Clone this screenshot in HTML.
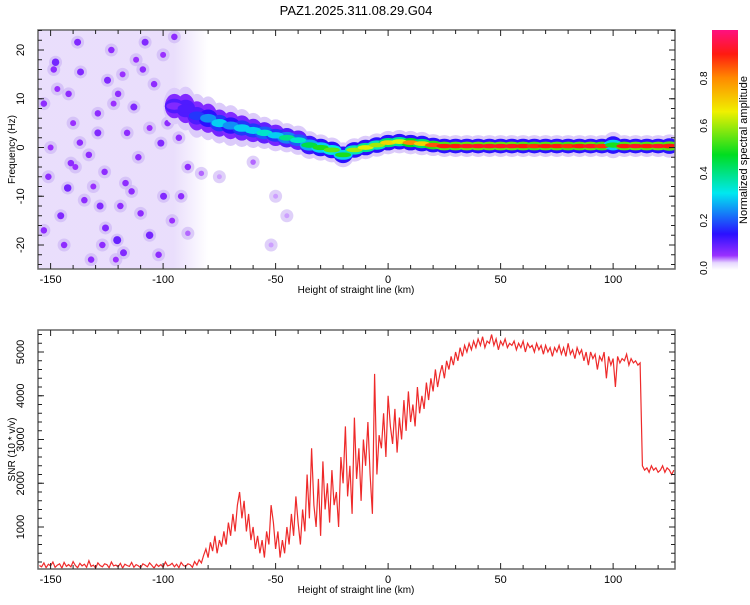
<!DOCTYPE html>
<html><head><meta charset="utf-8"><style>
body{margin:0;background:#fff;font-family:"Liberation Sans",sans-serif}
svg text{font-family:"Liberation Sans",sans-serif}
</style></head><body>
<svg id="s" width="750" height="600" xmlns="http://www.w3.org/2000/svg">
<defs>
<linearGradient id="cb" x1="0" y1="1" x2="0" y2="0">
<stop offset="0" stop-color="#fff"/><stop offset="0.03" stop-color="#e6d6ff"/><stop offset="0.06" stop-color="#9a30ff"/>
<stop offset="0.15" stop-color="#2a10ff"/><stop offset="0.32" stop-color="#00e8f0"/><stop offset="0.48" stop-color="#00dd20"/>
<stop offset="0.66" stop-color="#f0f000"/><stop offset="0.8" stop-color="#ff8a00"/><stop offset="0.9" stop-color="#ff1a10"/><stop offset="1" stop-color="#ff1080"/>
</linearGradient>
<linearGradient id="bgg" x1="0" y1="0" x2="1" y2="0">
<stop offset="0" stop-color="#e4d6fb"/><stop offset="0.8" stop-color="#e4d6fb"/><stop offset="1" stop-color="#ffffff"/>
</linearGradient>
<clipPath id="c1"><rect x="38" y="30" width="637" height="239"/></clipPath>
<clipPath id="c2"><rect x="38" y="330" width="637" height="239"/></clipPath>
</defs>
<text x="356" y="15" text-anchor="middle" font-size="13">PAZ1.2025.311.08.29.G04</text>
<g id="topg" clip-path="url(#c1)"></g>
<g id="botg" clip-path="url(#c2)"></g>
<g id="axes"></g>
<rect x="712" y="30" width="26" height="240" fill="url(#cb)"/>
<text transform="translate(747,150) rotate(-90)" text-anchor="middle" font-size="11">Normalized spectral amplitude</text>
</svg>
<script>
// ---- data ----
const blobKm=[-147.8,-136.7,-141,-142.4,-120.4,-106,-133,-113,-129,-108,-153,-145.5,-151,-125.6,-116.7,-99.8,-92,-124.7,-104,-95,-138,-123,-116,-101,-89,-135,-128,-110,-117.6,-132,-153,-148.6,-129,-142,-98,-89,-120,-111,-83,-75,-50,-45,-52,-60,-140,-112,-102,-150,-126,-118,-144,-131,-119,-106,-96,-137,-122,-109,-147,-114,-100,-127,-139,-93,-121];
const blobHz=[17.5,15.5,-3.2,-8.3,-19,-18,-1.5,8.3,7,21.6,9,-14,-6,-16.5,-7.3,-10,-10,13.8,13,22.7,21.6,20,3,0.9,-4,-10.8,-12,-13.5,-21.6,-23,-17,16,3,11,5,-17.6,11,-2,-5.3,-6,-10,-14,-20,-3,5,18,-22,0,-5,15,-20,-8,-12,4,-15,1,9,16,12,-9,19,-20,-4,2,-23];
const blobAmp=[0.09,0.08,0.07,0.09,0.1,0.09,0.07,0.08,0.07,0.08,0.07,0.08,0.07,0.08,0.07,0.08,0.07,0.08,0.07,0.07,0.08,0.07,0.07,0.08,0.07,0.07,0.08,0.07,0.08,0.07,0.07,0.07,0.08,0.07,0.07,0.05,0.07,0.07,0.05,0.04,0.04,0.04,0.04,0.05,0.06,0.06,0.07,0.06,0.07,0.06,0.07,0.06,0.07,0.06,0.06,0.07,0.06,0.07,0.06,0.07,0.06,0.07,0.06,0.07,0.06];
const ridgeKm=[-95,-90,-85,-80,-75,-70,-65,-60,-55,-50,-45,-40,-35,-30,-25,-20,-15,-10,-5,0,5,10,15,20,25,30,35,40,45,50,55,60,65,70,75,80,85,90,95,100,105,110,115,120,125];
const ridgeHz=[8.5,8,6.5,6,5,4.5,4,3.5,3,2.5,2,1.5,0.5,0,-0.5,-1.5,-0.5,0,0.5,1,1.2,1,0.8,0.5,0.3,0.3,0.3,0.3,0.3,0.3,0.3,0.3,0.3,0.3,0.3,0.3,0.3,0.3,0.3,0.5,0.3,0.3,0.3,0.3,0.3];
const ridgeAmp=[0.08,0.12,0.18,0.25,0.3,0.25,0.3,0.3,0.35,0.3,0.4,0.35,0.45,0.5,0.55,0.5,0.6,0.65,0.6,0.7,0.65,0.8,0.7,0.85,0.9,0.9,0.92,0.92,0.92,0.92,0.92,0.9,0.88,0.9,0.9,0.88,0.9,0.92,0.88,0.5,0.9,0.92,0.9,0.92,0.9];
const ridgeWidth=[2.5,3,3,3,2.8,2.8,2.6,2.4,2.2,2.2,2,2,1.9,1.8,1.7,1.7,1.6,1.6,1.6,1.6,1.6,1.6,1.6,1.5,1.5,1.5,1.5,1.5,1.5,1.5,1.5,1.5,1.5,1.5,1.5,1.5,1.5,1.5,1.5,1.8,1.5,1.5,1.5,1.5,1.6];
const snrStart=-155, snrStep=1;
const snr=[120,90,180,70,150,110,200,80,130,160,60,190,100,140,90,210,120,70,170,110,150,80,230,100,130,60,180,120,90,160,140,70,200,110,130,90,170,60,150,120,100,190,80,140,110,70,160,130,90,180,120,60,150,100,140,80,200,110,130,170,90,150,70,190,120,100,160,140,80,210,
130,250,180,350,500,300,650,450,800,400,700,550,900,600,1100,800,1300,900,1500,1800,1200,1600,900,1300,700,1000,500,800,400,700,300,900,600,1500,1100,500,900,300,700,400,
1000,600,1300,800,1700,1100,600,1400,900,2200,1200,2800,1500,1000,2100,800,2500,1400,2000,1100,2300,1500,1800,1000,2600,2000,3300,1700,2400,1300,3500,2100,2800,1600,3000,2400,3400,2200,1300,4500,
2200,3100,2800,3600,2600,4000,3300,2900,3700,2700,3500,3000,3900,3200,4100,3400,3800,3300,4200,3600,4000,3700,4300,3900,4400,4100,4600,4200,4500,4700,4400,4800,4600,4900,4700,5000,4800,5100,4900,5150,
5000,5200,5050,5250,5100,5300,5150,5350,5100,5250,5200,5400,5150,5300,5050,5250,5150,5300,5100,5200,5150,5250,5050,5200,5100,5250,5000,5200,5100,5150,5000,5200,5050,5150,4950,5150,5000,5100,4900,5100,
5000,5150,4950,5100,4900,5200,4950,5050,4850,5100,4950,5050,4800,5000,4700,5000,4850,4950,4600,4900,4800,5000,4400,4900,4700,4850,4200,4900,4750,4850,4800,4950,4700,4850,4750,4800,4700,4750,2400,2300,
2350,2250,2400,2300,2350,2250,2300,2400,2250,2350,2300,2200,2300];
const xTicks=[-150,-100,-50,0,50,100];
const fTicks=[-20,-10,0,10,20];
const sTicks=[1000,2000,3000,4000,5000];
const cTicks=[0.0,0.2,0.4,0.6,0.8];
// ---- scales ----
const L=38,R=675,kmMin=-155.6,kmMax=127.5;
const X=k=>L+(k-kmMin)/(kmMax-kmMin)*(R-L);
const FY=h=>147.5-h*4.875;
const SY=v=>570.75-v*0.04375;
const CY=a=>268-a*237;
const NS="http://www.w3.org/2000/svg";
function mk(t,at,p){const e=document.createElementNS(NS,t);for(const k in at)e.setAttribute(k,at[k]);p.appendChild(e);return e;}
const stops=[[0,[255,255,255]],[0.03,[230,214,255]],[0.06,[154,48,255]],[0.15,[42,16,255]],[0.32,[0,232,240]],[0.48,[0,221,32]],[0.66,[240,240,0]],[0.8,[255,138,0]],[0.9,[255,26,16]],[1,[255,16,128]]];
function cmap(a){for(let i=1;i<stops.length;i++){if(a<=stops[i][0]){const[a0,c0]=stops[i-1],[a1,c1]=stops[i];const t=(a-a0)/(a1-a0);return`rgb(${c0.map((c,j)=>Math.round(c+(c1[j]-c)*t)).join(',')})`;}}return'rgb(255,16,128)';}
const topG=document.getElementById('topg'),botG=document.getElementById('botg'),axes=document.getElementById('axes');
const bg=mk('rect',{x:X(-156),y:30,width:X(-80)-X(-156),height:239,fill:'url(#bgg)',opacity:0.8},topG);


blobKm.forEach((k,i)=>{
  const h=mk('circle',{cx:X(k),cy:FY(blobHz[i]),r:6.5,fill:'#c9b0f5',opacity:0.6},topG);
  
  
});
blobKm.forEach((k,i)=>{
  const c=mk('circle',{cx:X(k),cy:FY(blobHz[i]),r:1.5+blobAmp[i]*25,fill:cmap(blobAmp[i])},topG);
  
  
});
[[1.5,a=>'#dccbfa',0],[1.0,a=>cmap(Math.max(0.08,Math.min(0.15,a*0.3))),1],[0.6,a=>cmap(Math.max(0.12,a*0.6)),2],[0.3,a=>cmap(a),3]].forEach(([f,col,lv])=>{
  ridgeKm.forEach((k,i)=>{
    const e=mk('ellipse',{cx:X(k),cy:FY(ridgeHz[i]),rx:lv==0?11:(lv==3?8:9.5),ry:ridgeWidth[i]*4.875*f,fill:col(ridgeAmp[i])},topG);
    
    
  });
});
const pts=snr.map((v,i)=>X(snrStart+i*snrStep).toFixed(1)+','+SY(v).toFixed(1)).join(' ');
const ln=mk('polyline',{points:pts,fill:'none',stroke:'#ee2a2a','stroke-width':1.2},botG);


function frame(y0,y1,yTicks,ys,minorStep,ymin,ymax,ylab,name){
  const f=mk('rect',{x:L,y:y0,width:R-L,height:y1-y0,fill:'none',stroke:'#666','stroke-width':1.5},axes);
  
  
  for(let k=-150;k<=125;k+=10){const x=X(k),big=k%50==0;
    mk('line',{x1:x,y1:y1,x2:x,y2:y1-(big?6:4),stroke:'#222'},axes);
    mk('line',{x1:x,y1:y0,x2:x,y2:y0+(big?6:4),stroke:'#222'},axes);}
  xTicks.forEach(k=>{const t=mk('text',{x:X(k),y:y1+14,'text-anchor':'middle','font-size':11},axes);t.textContent=k;
    
    });
  for(let v=Math.ceil(ymin/minorStep)*minorStep;v<=ymax;v+=minorStep){const y=ys(v);
    mk('line',{x1:L,y1:y,x2:L+4,y2:y,stroke:'#222'},axes);mk('line',{x1:R,y1:y,x2:R-4,y2:y,stroke:'#222'},axes);}
  yTicks.forEach(v=>{const y=ys(v);mk('line',{x1:L,y1:y,x2:L+6,y2:y,stroke:'#222'},axes);mk('line',{x1:R,y1:y,x2:R-6,y2:y,stroke:'#222'},axes);
    const t=mk('text',{transform:`translate(${L-14},${y}) rotate(-90)`,'text-anchor':'middle','font-size':11},axes);t.textContent=v;
    
    });
  const xl=mk('text',{x:356,y:y1+24,'text-anchor':'middle','font-size':10},axes);xl.textContent='Height of straight line (km)';
  
  
  const yl=mk('text',{transform:`translate(15,${(y0+y1)/2}) rotate(-90)`,'text-anchor':'middle','font-size':10},axes);yl.textContent=ylab;
  
  
}
frame(30,269,fTicks,FY,2,-24,24,'Frequency (Hz)','spectrogram');
frame(330,569,sTicks,SY,200,100,5500,'SNR (10 * v/v)','snr');
cTicks.forEach(a=>{const t=mk('text',{transform:`translate(707,${CY(a)}) rotate(-90)`,'text-anchor':'middle','font-size':10},axes);t.textContent=a.toFixed(1);
  
  });
</script>
</body></html>
